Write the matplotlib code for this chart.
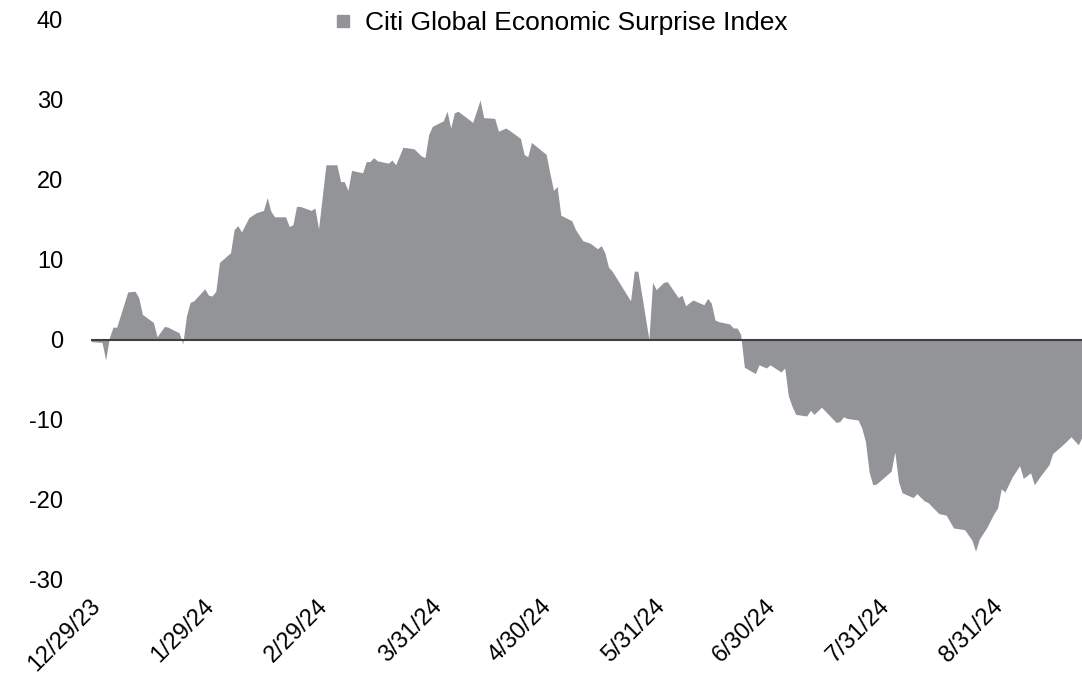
import matplotlib
matplotlib.use('Agg')
import matplotlib.pyplot as plt
import matplotlib.transforms as mtransforms
from matplotlib.lines import Line2D
import pandas as pd

plt.rcParams['font.family'] = ['Liberation Sans', 'DejaVu Sans']

# Citi Global Economic Surprise Index
dates = ['2023-12-29', '2024-01-01', '2024-01-02', '2024-01-03', '2024-01-04', '2024-01-05',
         '2024-01-08', '2024-01-10', '2024-01-11', '2024-01-12', '2024-01-15', '2024-01-16',
         '2024-01-18', '2024-01-19', '2024-01-22', '2024-01-23', '2024-01-24', '2024-01-25',
         '2024-01-26', '2024-01-29', '2024-01-30', '2024-01-31', '2024-02-01', '2024-02-02',
         '2024-02-05', '2024-02-06', '2024-02-07', '2024-02-08', '2024-02-10', '2024-02-12',
         '2024-02-14', '2024-02-15', '2024-02-16', '2024-02-17', '2024-02-20', '2024-02-21',
         '2024-02-22', '2024-02-23', '2024-02-24', '2024-02-27', '2024-02-28', '2024-02-29',
         '2024-03-02', '2024-03-05', '2024-03-06', '2024-03-07', '2024-03-08', '2024-03-09',
         '2024-03-12', '2024-03-13', '2024-03-14', '2024-03-15', '2024-03-16', '2024-03-19',
         '2024-03-20', '2024-03-21', '2024-03-23', '2024-03-26', '2024-03-28', '2024-03-29',
         '2024-03-30', '2024-03-31', '2024-04-03', '2024-04-04', '2024-04-05', '2024-04-06',
         '2024-04-07', '2024-04-11', '2024-04-13', '2024-04-14', '2024-04-17', '2024-04-18',
         '2024-04-20', '2024-04-21', '2024-04-24', '2024-04-25', '2024-04-26', '2024-04-27',
         '2024-05-01', '2024-05-02', '2024-05-03', '2024-05-04', '2024-05-05', '2024-05-08',
         '2024-05-09', '2024-05-11', '2024-05-13', '2024-05-15', '2024-05-16', '2024-05-17',
         '2024-05-18', '2024-05-19', '2024-05-24', '2024-05-25', '2024-05-26', '2024-05-29',
         '2024-05-30', '2024-05-31', '2024-06-02', '2024-06-03', '2024-06-06', '2024-06-07',
         '2024-06-08', '2024-06-10', '2024-06-13', '2024-06-14', '2024-06-15', '2024-06-16',
         '2024-06-17', '2024-06-20', '2024-06-21', '2024-06-22', '2024-06-23', '2024-06-24',
         '2024-06-27', '2024-06-28', '2024-06-30', '2024-07-01', '2024-07-04', '2024-07-05',
         '2024-07-06', '2024-07-07', '2024-07-08', '2024-07-11', '2024-07-12', '2024-07-13',
         '2024-07-15', '2024-07-19', '2024-07-20', '2024-07-21', '2024-07-22', '2024-07-25',
         '2024-07-26', '2024-07-27', '2024-07-28', '2024-07-29', '2024-07-30', '2024-08-03',
         '2024-08-04', '2024-08-05', '2024-08-06', '2024-08-09', '2024-08-10', '2024-08-12',
         '2024-08-13', '2024-08-16', '2024-08-18', '2024-08-20', '2024-08-23', '2024-08-25',
         '2024-08-26', '2024-08-27', '2024-08-29', '2024-08-31', '2024-09-01', '2024-09-02',
         '2024-09-03', '2024-09-05', '2024-09-07', '2024-09-08', '2024-09-10', '2024-09-11',
         '2024-09-13', '2024-09-15', '2024-09-16', '2024-09-17', '2024-09-19', '2024-09-21',
         '2024-09-23', '2024-09-24']

values = [-0.2, -0.3, -2.5, 0.3, 1.6, 1.6,
          6.0, 6.1, 5.3, 3.2, 2.2, 0.4,
          1.7, 1.6, 0.9, -0.5, 3.0, 4.7,
          4.9, 6.4, 5.6, 5.5, 6.1, 9.7,
          10.9, 13.8, 14.3, 13.5, 15.3, 15.9,
          16.2, 17.8, 16.1, 15.4, 15.4, 14.2,
          14.4, 16.7, 16.7, 16.2, 16.5, 13.9,
          21.9, 21.9, 19.8, 19.8, 18.7, 21.2,
          20.9, 22.3, 22.3, 22.8, 22.4, 22.1,
          22.5, 21.9, 24.1, 23.9, 23.0, 22.8,
          25.7, 26.7, 27.4, 28.6, 26.5, 28.4,
          28.6, 27.2, 30.0, 27.8, 27.7, 26.1,
          26.5, 26.2, 25.2, 23.2, 22.9, 24.7,
          23.2, 20.9, 18.7, 19.2, 15.6, 14.9,
          13.8, 12.4, 12.1, 11.4, 11.8, 10.9,
          9.1, 8.6, 4.9, 8.6, 8.6, 0.1,
          7.2, 6.3, 7.2, 7.3, 5.3, 5.6,
          4.3, 5.0, 4.4, 5.2, 4.6, 2.5,
          2.3, 2.0, 1.5, 1.5, 0.7, -3.4,
          -4.2, -3.1, -3.5, -3.1, -4.0, -3.5,
          -7.0, -8.3, -9.3, -9.5, -8.8, -9.3,
          -8.4, -10.3, -10.2, -9.6, -9.8, -10.0,
          -11.0, -12.7, -16.5, -18.1, -18.0, -16.4,
          -14.0, -17.7, -19.1, -19.7, -19.2, -20.1,
          -20.3, -21.7, -21.9, -23.5, -23.7, -25.0,
          -26.4, -24.9, -23.5, -21.7, -21.0, -18.6,
          -19.0, -17.1, -15.7, -17.3, -16.6, -18.1,
          -16.8, -15.6, -14.2, -13.8, -13.0, -12.1,
          -13.1, -12.1]

tick_dates = ['2023-12-29', '2024-01-29', '2024-02-29', '2024-03-31', '2024-04-30',
              '2024-05-31', '2024-06-30', '2024-07-31', '2024-08-31']
tick_labels = ['12/29/23', '1/29/24', '2/29/24', '3/31/24', '4/30/24',
               '5/31/24', '6/30/24', '7/31/24', '8/31/24']
y_ticks = [-30, -20, -10, 0, 10, 20, 30, 40]

fill_color = '#939498'
label = 'Citi Global Economic Surprise Index'

x = pd.to_datetime(dates)

fig = plt.figure(figsize=(10.82, 6.82), dpi=100)
ax = fig.add_axes([91 / 1082, 1 - 580 / 682, 1 - 91 / 1082, 560 / 682])

ax.fill_between(x, values, 0, color=fill_color, linewidth=0)
ax.axhline(0, color='#404040', linewidth=1.5)

ax.set_xlim(x[0], x[-1])
ax.set_ylim(-30, 40)
ax.set_yticks(y_ticks)
ax.set_yticklabels([str(v) for v in y_ticks])
ax.set_xticks(pd.to_datetime(tick_dates))
ax.set_xticklabels(tick_labels, rotation=45, ha='right', va='top',
                   rotation_mode='anchor')

for s in ax.spines.values():
    s.set_visible(False)
ax.tick_params(axis='y', length=0, pad=20, labelsize=17, labelcolor='black')
ax.tick_params(axis='x', length=0, pad=11, labelsize=17, labelcolor='black')

# shift the rotated date labels a little so their ends sit on the ticks
offset = mtransforms.ScaledTranslation(-2 / 100, 0, fig.dpi_scale_trans)
for lbl in ax.get_xticklabels():
    lbl.set_transform(lbl.get_transform() + offset)

handle = Line2D([], [], marker='s', linestyle='none', color=fill_color,
                markersize=8.5, label=label)
fig.legend(handles=[handle], loc='center', bbox_to_anchor=(560 / 1082, 1 - 23 / 682),
           frameon=False, fontsize=19, handletextpad=0.4, handlelength=0.8)

fig.savefig('out.png', dpi=100)
